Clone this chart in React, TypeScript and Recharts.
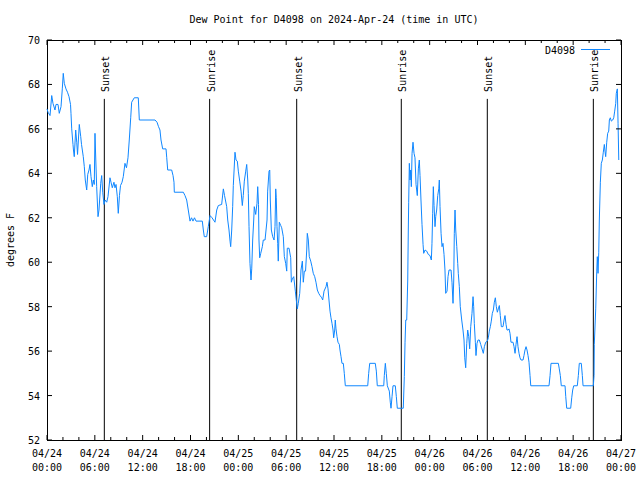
import { LineChart, Line, XAxis, YAxis, ReferenceLine, ReferenceArea } from 'recharts';

// hours since 04/24 00:00 UTC
const hours = [
  0.0, 0.13, 0.38, 0.59, 0.75, 1.0, 1.13, 1.38, 1.54, 1.76, 1.92, 2.04, 2.17, 2.38, 2.57, 2.76, 2.95, 3.01, 3.1, 3.26,
  3.32, 3.42, 3.6, 3.73, 3.83, 4.05, 4.23, 4.33, 4.55, 4.68, 4.8, 4.98, 5.11, 5.27, 5.39, 5.52, 5.68, 5.81, 5.93, 6.02,
  6.08, 6.23, 6.4, 6.52, 6.74, 6.86, 6.99, 7.15, 7.28, 7.49, 7.65, 7.9, 8.03, 8.19, 8.4, 8.53, 8.66, 8.82, 8.94, 9.09,
  9.22, 9.41, 9.57, 9.78, 9.97, 10.16, 10.32, 10.5, 10.62, 10.95, 11.45, 11.58, 13.55, 13.8, 13.99, 14.17, 14.3, 14.51, 14.93, 15.02,
  15.14, 15.64, 15.81, 15.93, 15.97, 17.1, 17.31, 17.52, 17.72, 17.94, 18.13, 18.31, 18.5, 18.69, 19.48, 19.61, 19.73, 20.03, 20.23, 20.45,
  20.7, 21.07, 21.29, 21.49, 21.91, 22.12, 22.27, 22.54, 22.67, 22.83, 22.96, 23.04, 23.17, 23.29, 23.37, 23.58, 23.71, 23.87, 24.0, 24.17,
  24.34, 24.5, 24.62, 24.75, 24.93, 25.05, 25.18, 25.25, 25.34, 25.46, 25.59, 25.68, 25.8, 25.93, 26.0, 26.18, 26.34, 26.43, 26.53, 26.59,
  26.68, 26.81, 27.01, 27.13, 27.35, 27.6, 27.68, 27.85, 27.94, 28.01, 28.14, 28.31, 28.48, 28.6, 28.69, 28.76, 28.85, 28.94, 29.01, 29.14,
  29.32, 29.44, 29.64, 29.77, 29.94, 30.07, 30.14, 30.36, 30.57, 30.65, 30.77, 30.95, 31.15, 31.27, 31.4, 31.52, 31.7, 31.86, 32.03, 32.15,
  32.28, 32.43, 32.58, 32.65, 32.78, 32.9, 33.08, 33.24, 33.4, 33.58, 33.74, 33.91, 34.08, 34.25, 34.46, 34.58, 34.75, 35.0, 35.12, 35.25,
  35.37, 35.5, 35.62, 35.75, 35.88, 35.96, 36.09, 36.16, 36.25, 36.38, 36.5, 36.67, 36.75, 36.88, 37.0, 37.17, 37.29, 37.42, 40.23, 40.35,
  40.48, 41.18, 41.31, 41.43, 42.24, 42.31, 42.44, 42.56, 42.69, 42.94, 43.06, 43.15, 43.28, 43.4, 43.69, 43.82, 43.94, 44.69, 44.82, 44.91,
  45.0, 45.12, 45.25, 45.32, 45.37, 45.45, 45.54, 45.62, 45.7, 45.79, 45.91, 46.04, 46.16, 46.29, 46.45, 46.58, 46.7, 46.79, 46.91, 47.04,
  47.17, 47.25, 47.42, 47.63, 47.83, 48.04, 48.21, 48.29, 48.38, 48.46, 48.55, 48.67, 48.76, 48.88, 49.01, 49.14, 49.21, 49.3, 49.43, 49.55,
  49.67, 49.8, 49.92, 50.01, 50.18, 50.3, 50.43, 50.68, 50.8, 50.93, 51.02, 51.09, 51.18, 51.27, 51.4, 51.52, 51.59, 51.72, 51.84, 52.02,
  52.18, 52.31, 52.4, 52.52, 52.65, 52.77, 52.9, 53.02, 53.15, 53.31, 53.44, 53.52, 53.6, 53.73, 53.81, 53.94, 54.07, 54.23, 54.4, 54.61,
  54.73, 54.86, 55.03, 55.23, 55.36, 55.48, 55.61, 55.73, 55.86, 55.99, 56.11, 56.24, 56.36, 56.49, 56.61, 56.74, 56.86, 56.99, 57.2, 57.33,
  57.45, 57.58, 57.7, 57.83, 57.95, 58.08, 58.2, 58.46, 58.58, 58.71, 58.83, 58.96, 59.08, 59.21, 59.33, 59.46, 59.71, 59.83, 59.96, 60.09,
  60.21, 60.34, 60.46, 60.59, 60.68, 62.97, 63.1, 63.22, 64.14, 64.26, 64.39, 64.51, 64.98, 65.07, 65.19, 65.69, 65.82, 65.94, 66.07, 66.52,
  66.65, 66.77, 67.02, 67.15, 67.24, 68.53, 68.62, 68.65, 68.83, 68.96, 69.03, 69.12, 69.21, 69.28, 69.41, 69.53, 69.66, 69.78, 69.91, 69.99,
  70.08, 70.21, 70.33, 70.46, 70.54, 70.66, 70.79, 70.96, 71.09, 71.21, 71.34, 71.41, 71.54, 71.63, 71.72,
];

const dewPointF = [
  66.9, 66.75, 66.6, 67.5, 67.15, 66.85, 67.1, 67.1, 66.7, 67.0, 67.8, 68.5, 68.05, 67.8, 67.65, 67.45, 67.1, 66.7, 66.0, 65.3,
  65.05, 64.75, 65.95, 65.4, 64.85, 66.2, 65.65, 65.3, 64.75, 64.3, 63.7, 63.25, 63.95, 64.15, 64.4, 63.85, 63.4, 63.7, 63.5, 65.8,
  65.05, 63.4, 62.05, 62.35, 63.55, 63.9, 63.15, 62.6, 62.8, 62.7, 62.95, 63.8, 63.6, 63.35, 63.6, 63.35, 63.5, 62.95, 62.2, 63.0,
  63.45, 63.6, 63.85, 64.45, 64.25, 64.7, 65.5, 66.5, 67.2, 67.4, 67.4, 66.4, 66.4, 66.3, 66.1, 65.95, 65.5, 65.1, 65.1, 64.7,
  64.15, 64.15, 63.9, 63.6, 63.15, 63.15, 63.0, 62.8, 62.35, 61.85, 62.0, 61.85, 62.0, 61.85, 61.85, 61.45, 61.15, 61.15, 61.6, 62.1,
  62.0, 61.8, 62.35, 62.55, 62.6, 63.3, 63.0, 62.5, 61.9, 61.45, 60.95, 60.7, 61.45, 62.5, 63.45, 64.95, 64.6, 64.55, 64.1, 63.65,
  63.2, 62.55, 63.0, 63.65, 64.1, 64.4, 63.7, 63.1, 61.6, 59.95, 59.2, 59.7, 61.0, 61.9, 62.5, 62.15, 62.65, 63.4, 62.6, 61.0,
  60.2, 60.4, 60.7, 61.0, 61.0, 61.9, 63.2, 64.1, 64.15, 62.8, 61.45, 61.15, 61.0, 61.6, 63.3, 62.9, 61.6, 60.85, 60.05, 61.8,
  61.65, 61.55, 61.15, 60.25, 59.95, 59.6, 60.63, 60.63, 60.2, 59.1, 59.25, 59.35, 58.7, 58.3, 57.9, 58.15, 58.6, 59.65, 60.05, 59.1,
  59.6, 59.6, 60.55, 61.3, 61.0, 60.25, 60.05, 59.8, 59.5, 59.35, 59.1, 58.75, 58.6, 58.5, 58.4, 58.3, 58.7, 58.9, 59.1, 58.8,
  58.3, 57.8, 57.5, 57.25, 56.95, 56.6, 56.95, 57.4, 57.0, 56.65, 56.4, 56.3, 56.05, 55.75, 55.45, 55.45, 55.0, 54.44, 54.44, 55.0,
  55.45, 55.45, 55.1, 54.44, 54.44, 54.9, 55.45, 55.0, 54.44, 54.2, 53.7, 53.43, 53.95, 54.44, 54.44, 53.95, 53.43, 53.43, 54.85, 56.4,
  57.4, 57.4, 59.2, 61.45, 62.7, 64.45, 63.7, 64.15, 63.4, 64.9, 65.4, 64.9, 64.7, 63.5, 63.0, 64.2, 64.6, 63.9, 62.8, 61.7,
  60.8, 60.4, 60.55, 60.5, 60.35, 60.3, 60.1, 60.85, 62.2, 63.4, 62.55, 61.6, 62.05, 62.35, 63.0, 63.3, 63.7, 62.5, 61.3, 60.7,
  60.85, 60.35, 59.65, 58.6, 58.7, 59.35, 59.65, 59.65, 59.1, 58.15, 59.2, 61.3, 62.35, 61.45, 60.7, 59.95, 59.5, 58.9, 58.0, 57.4,
  56.95, 56.5, 55.7, 55.25, 56.35, 56.95, 56.65, 56.1, 57.1, 57.7, 58.45, 58.0, 57.25, 56.4, 55.8, 56.35, 56.5, 56.5, 56.3, 56.05,
  55.9, 56.2, 56.4, 56.45, 56.6, 56.9, 57.1, 57.35, 57.7, 57.85, 58.2, 58.4, 58.0, 57.75, 57.9, 58.05, 57.6, 57.1, 57.1, 57.4,
  57.6, 57.2, 56.95, 56.95, 57.0, 56.8, 56.4, 56.4, 56.2, 55.9, 56.3, 56.65, 56.2, 55.9, 55.7, 55.6, 55.6, 55.8, 56.05, 56.2,
  56.05, 55.8, 55.5, 54.9, 54.44, 54.44, 54.9, 55.45, 55.45, 55.2, 54.9, 54.44, 54.44, 53.95, 53.43, 53.43, 53.9, 54.25, 54.44, 54.44,
  54.9, 55.45, 55.45, 54.9, 54.44, 54.44, 54.9, 56.3, 57.9, 59.6, 60.25, 59.5, 60.45, 61.9, 63.6, 64.45, 64.6, 64.95, 65.3, 65.0,
  64.75, 65.4, 65.8, 65.9, 66.4, 66.5, 66.35, 66.4, 66.5, 66.8, 67.15, 67.6, 67.8, 66.25, 64.6,
];

const eventHours = [7.19, 20.4, 31.32, 44.44, 55.23, 68.53];
const eventLabels = ['Sunset', 'Sunrise', 'Sunset', 'Sunrise', 'Sunset', 'Sunrise'];

const xTicks = Array.from({ length: 37 }, (_, i) => i * 2);
const yTicks = [52, 54, 56, 58, 60, 62, 64, 66, 68, 70];
const dayLabels = ['04/24', '04/25', '04/26', '04/27'];

const data = hours.map((h, i) => ({ h, v: dewPointF[i] }));

const FONT = 'DejaVu Sans Mono';
const LINE_COLOR = '#0f87ff';
const PLOT_TOP = 40;
const PLOT_BOTTOM = 440;
const PLOT_LEFT = 47;
const PLOT_RIGHT = 621;

function XTick(props: any) {
  const { x, y, payload } = props;
  const h = payload.value;
  const major = h % 6 === 0;
  const len = major ? 5 : 3;
  const day = dayLabels[Math.floor(h / 24)];
  const hh = String(h % 24).padStart(2, '0') + ':00';
  return (
    <g>
      <line x1={x} x2={x} y1={PLOT_BOTTOM} y2={PLOT_BOTTOM - len} stroke="#000" />
      <line x1={x} x2={x} y1={PLOT_TOP} y2={PLOT_TOP + len} stroke="#000" />
      {major && (
        <text x={x} y={y + 17} textAnchor="middle" fontFamily={FONT} fontSize={10} fill="#000">
          <tspan x={x}>{day}</tspan>
          <tspan x={x} dy={14}>{hh}</tspan>
        </text>
      )}
    </g>
  );
}

function YTick(props: any) {
  const { y, payload } = props;
  return (
    <g>
      <line x1={PLOT_LEFT} x2={PLOT_LEFT + 5} y1={y} y2={y} stroke="#000" />
      <line x1={PLOT_RIGHT} x2={PLOT_RIGHT - 5} y1={y} y2={y} stroke="#000" />
      <text x={40} y={y + 4} textAnchor="end" fontFamily={FONT} fontSize={10} fill="#000">
        {payload.value}
      </text>
    </g>
  );
}

function EventLabel(props: any) {
  const { viewBox, value } = props;
  const tx = viewBox.x + 5;
  const ty = viewBox.y - 7;
  return (
    <text
      x={tx}
      y={ty}
      transform={`rotate(-90 ${tx} ${ty})`}
      textAnchor="start"
      fontFamily={FONT}
      fontSize={10}
      fill="#000"
    >
      {value}
    </text>
  );
}

export default function App() {
  return (
    <div style={{ position: 'absolute', left: 0, top: 0, width: 640, height: 480, background: '#fff' }}>
      <LineChart width={640} height={480} data={data} margin={{ top: 40, right: 19, bottom: 0, left: 0 }}>
        <XAxis
          dataKey="h"
          type="number"
          domain={[0, 72]}
          ticks={xTicks}
          interval={0}
          tickSize={0}
          tickMargin={0}
          axisLine={false}
          tickLine={false}
          height={40}
          tick={<XTick />}
        />
        <YAxis
          type="number"
          domain={[52, 70]}
          ticks={yTicks}
          interval={0}
          tickSize={0}
          tickMargin={0}
          axisLine={false}
          tickLine={false}
          width={47}
          tick={<YTick />}
        />
        <ReferenceArea x1={0} x2={72} y1={52} y2={70} fill="none" stroke="#000" strokeWidth={1} shapeRendering="crispEdges" />
        {eventHours.map((h, i) => (
          <ReferenceLine
            key={i}
            segment={[{ x: h, y: 67.35 }, { x: h, y: 52 }]}
            stroke="#000"
            strokeWidth={1}
            label={<EventLabel value={eventLabels[i]} />}
          />
        ))}
        <Line
          type="linear"
          dataKey="v"
          stroke={LINE_COLOR}
          strokeWidth={1}
          dot={false}
          isAnimationActive={false}
        />
        <text x={334} y={23} textAnchor="middle" fontFamily={FONT} fontSize={10} fill="#000">
          Dew Point for D4098 on 2024-Apr-24 (time in UTC)
        </text>
        <text x={14} y={240} transform="rotate(-90 14 240)" textAnchor="middle" fontFamily={FONT} fontSize={10} fill="#000">
          degrees F
        </text>
        <text x={575} y={54} textAnchor="end" fontFamily={FONT} fontSize={10} fill="#000">
          D4098
        </text>
        <line x1={581} x2={610} y1={49.5} y2={49.5} stroke={LINE_COLOR} strokeWidth={1} />
      </LineChart>
    </div>
  );
}
